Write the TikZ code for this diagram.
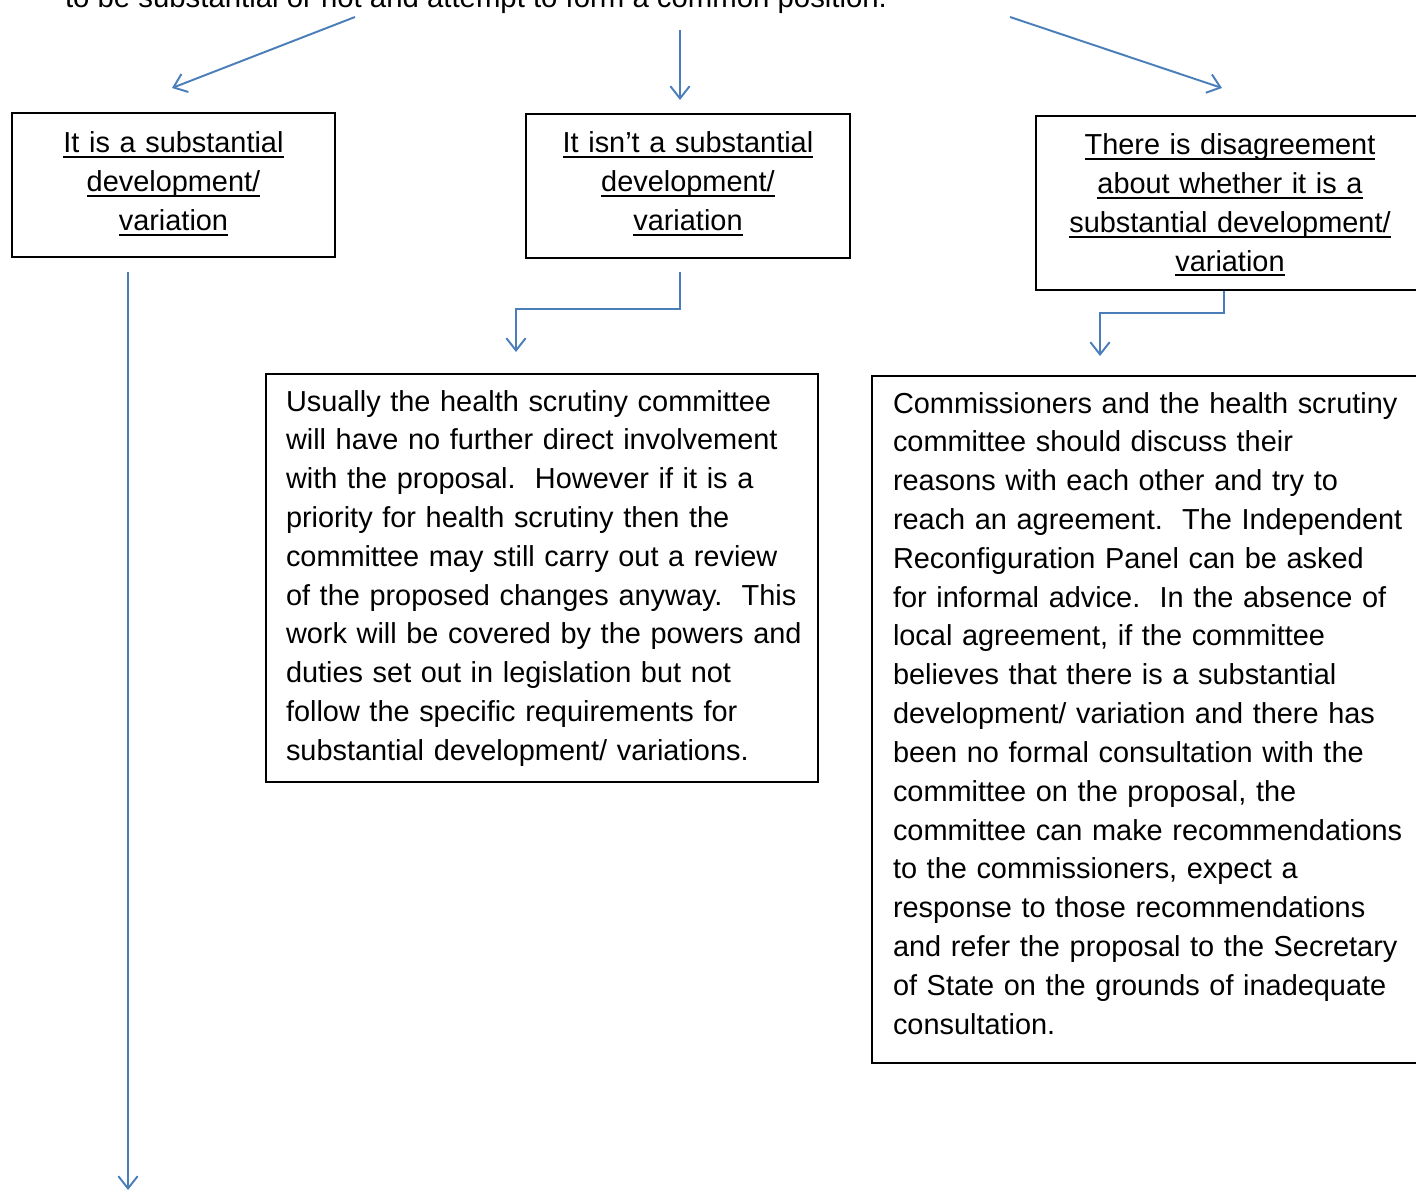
\documentclass[tikz,border=0pt]{standalone}
\usepackage{fontspec}
\setmainfont{Liberation Sans}
\usetikzlibrary{arrows.meta}
\definecolor{linkblue}{RGB}{74,126,187}
\newcommand{\uln}[1]{\leavevmode\setbox0\hbox{#1}\rlap{\rule[-2.8pt]{\wd0}{1.1pt}}\box0}
\tikzset{
    every node/.style={font=\fontsize{16.45pt}{22.1pt}\selectfont,
    	inner sep=0pt, outer sep=0pt}
}
\tikzset{
    head/.style={draw, line width=1.1pt, anchor=north west, align=center},
    body/.style={draw, line width=1.1pt, anchor=north west, align=left, inner xsep=0.1cm}
}
\tikzset{
	link/.style={draw=linkblue, line width=1.1pt,
		-{Straight Barb[length=7pt,width=11pt]}}
}

\begin{document}
\begin{tikzpicture}[x=0.02cm, y=-0.02cm]
	\useasboundingbox (0,0) rectangle (1416,1191);
	\clip (0,0) rectangle (1416,1191);
	\node (0) [anchor=base west] at (65,7) {\fontsize{16.7pt}{22.1pt}\selectfont to be substantial or not and attempt to form a common position.};
	\node (1) [head, text width=6.46cm, text height=0.8cm, text depth=2.08cm] at (12,113)
		{\uln{It is a substantial}\\\uln{development/}\\\uln{variation}};
	\node (2) [head, text width=6.48cm, text height=0.78cm, text depth=2.1cm] at (526,114)
		{\uln{It isn’t a substantial}\\\uln{development/}\\\uln{variation}};
	\node (3) [head, text width=7.76cm, text height=0.78cm, text depth=2.7cm] at (1036,116)
		{\uln{There is disagreement}\\\uln{about whether it is a}\\\uln{substantial development/}\\\uln{variation}};
	\node (4) [body, text width=10.84cm, text height=0.74cm, text depth=7.42cm] at (266,374)
		{\leftskip=0.3cm
		Usually the health scrutiny committee\\
		will have no further direct involvement\\
		with the proposal.\ \ However if it is a\\
		priority for health scrutiny then the\\
		committee may still carry out a review\\
		of the proposed changes anyway.\ \ This\\
		work will be covered by the powers and\\
		duties set out in legislation but not\\
		follow the specific requirements for\\
		substantial development/ variations.\par};
	\node (5) [body, text width=10.88cm, text height=0.74cm, text depth=13cm] at (872,376)
		{\leftskip=0.32cm
		Commissioners and the health scrutiny\\
		committee should discuss their\\
		reasons with each other and try to\\
		reach an agreement.\ \ The Independent\\
		Reconfiguration Panel can be asked\\
		for informal advice.\ \ In the absence of\\
		local agreement, if the committee\\
		believes that there is a substantial\\
		development/ variation and there has\\
		been no formal consultation with the\\
		committee on the proposal, the\\
		committee can make recommendations\\
		to the commissioners, expect a\\
		response to those recommendations\\
		and refer the proposal to the Secretary\\
		of State on the grounds of inadequate\\
		consultation.\par};
	
	\coordinate (6) at (355,17); \coordinate (7) at (172,88);
	\coordinate (8) at (680,30); \coordinate (9) at (680,100);
	\coordinate (10) at (1010,17); \coordinate (11) at (1222,88);
	\coordinate (12) at (128,272); \coordinate (13) at (128,1190);
	\coordinate (14) at (680,272); \coordinate (15) at (680,309); \coordinate (16) at (516,352);
	\coordinate (17) at (1224,291); \coordinate (18) at (1224,313); \coordinate (19) at (1100,356);
	
	\draw[link] (6) -- (7); \draw[link] (8) -- (9); \draw[link] (10) -- (11);
	\draw[link] (12) -- (13);
	\draw[link] (14) -- (15) -| (16);
	\draw[link] (17) -- (18) -| (19);
\end{tikzpicture}
\end{document}
